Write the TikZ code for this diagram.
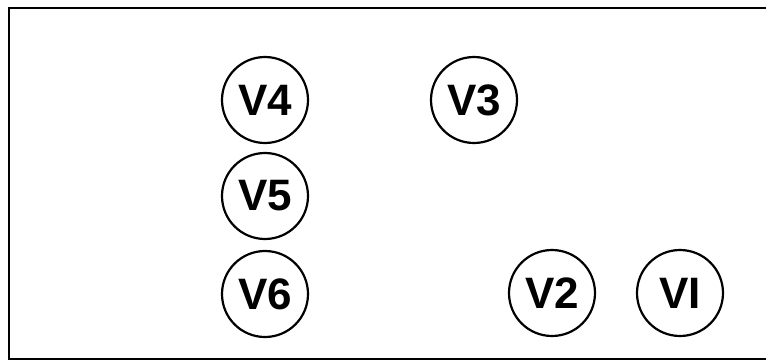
\documentclass[tikz,border=0pt]{standalone}
\usepackage{fontspec}
\newfontfamily\lettering{Liberation Sans}
\usepackage{tikz}
\usetikzlibrary{calc}

\begin{document}
\begin{tikzpicture}[ x=1pt, y=-1pt,
      frame/.style={line width=2pt},
      valve/.style={draw, circle, line width=2.2pt, minimum size=86pt, inner sep=0pt,
        font=\lettering\bfseries\fontsize{44}{44}\selectfont},
      every node/.style={color=black}
      ]
      \useasboundingbox (0,0) rectangle (766,362);
      % panel outline, open to the right
      \draw[frame] (766,8) -- (9,8) -- (9,359) -- (766,359);

      % left column
      \node[valve] (V4) at (265,100) {V4};
      \node[valve] (V5) at (265,196) {V5};
      \node[valve] (V6) at (265,294) {V6};

      % right group
      \node[valve] (V3) at (474,100) {V3};
      \node[valve] (V2) at (552,293) {V2};
      \node[valve] (V1) at (680,293) {VI};
    \end{tikzpicture}
\end{document}
